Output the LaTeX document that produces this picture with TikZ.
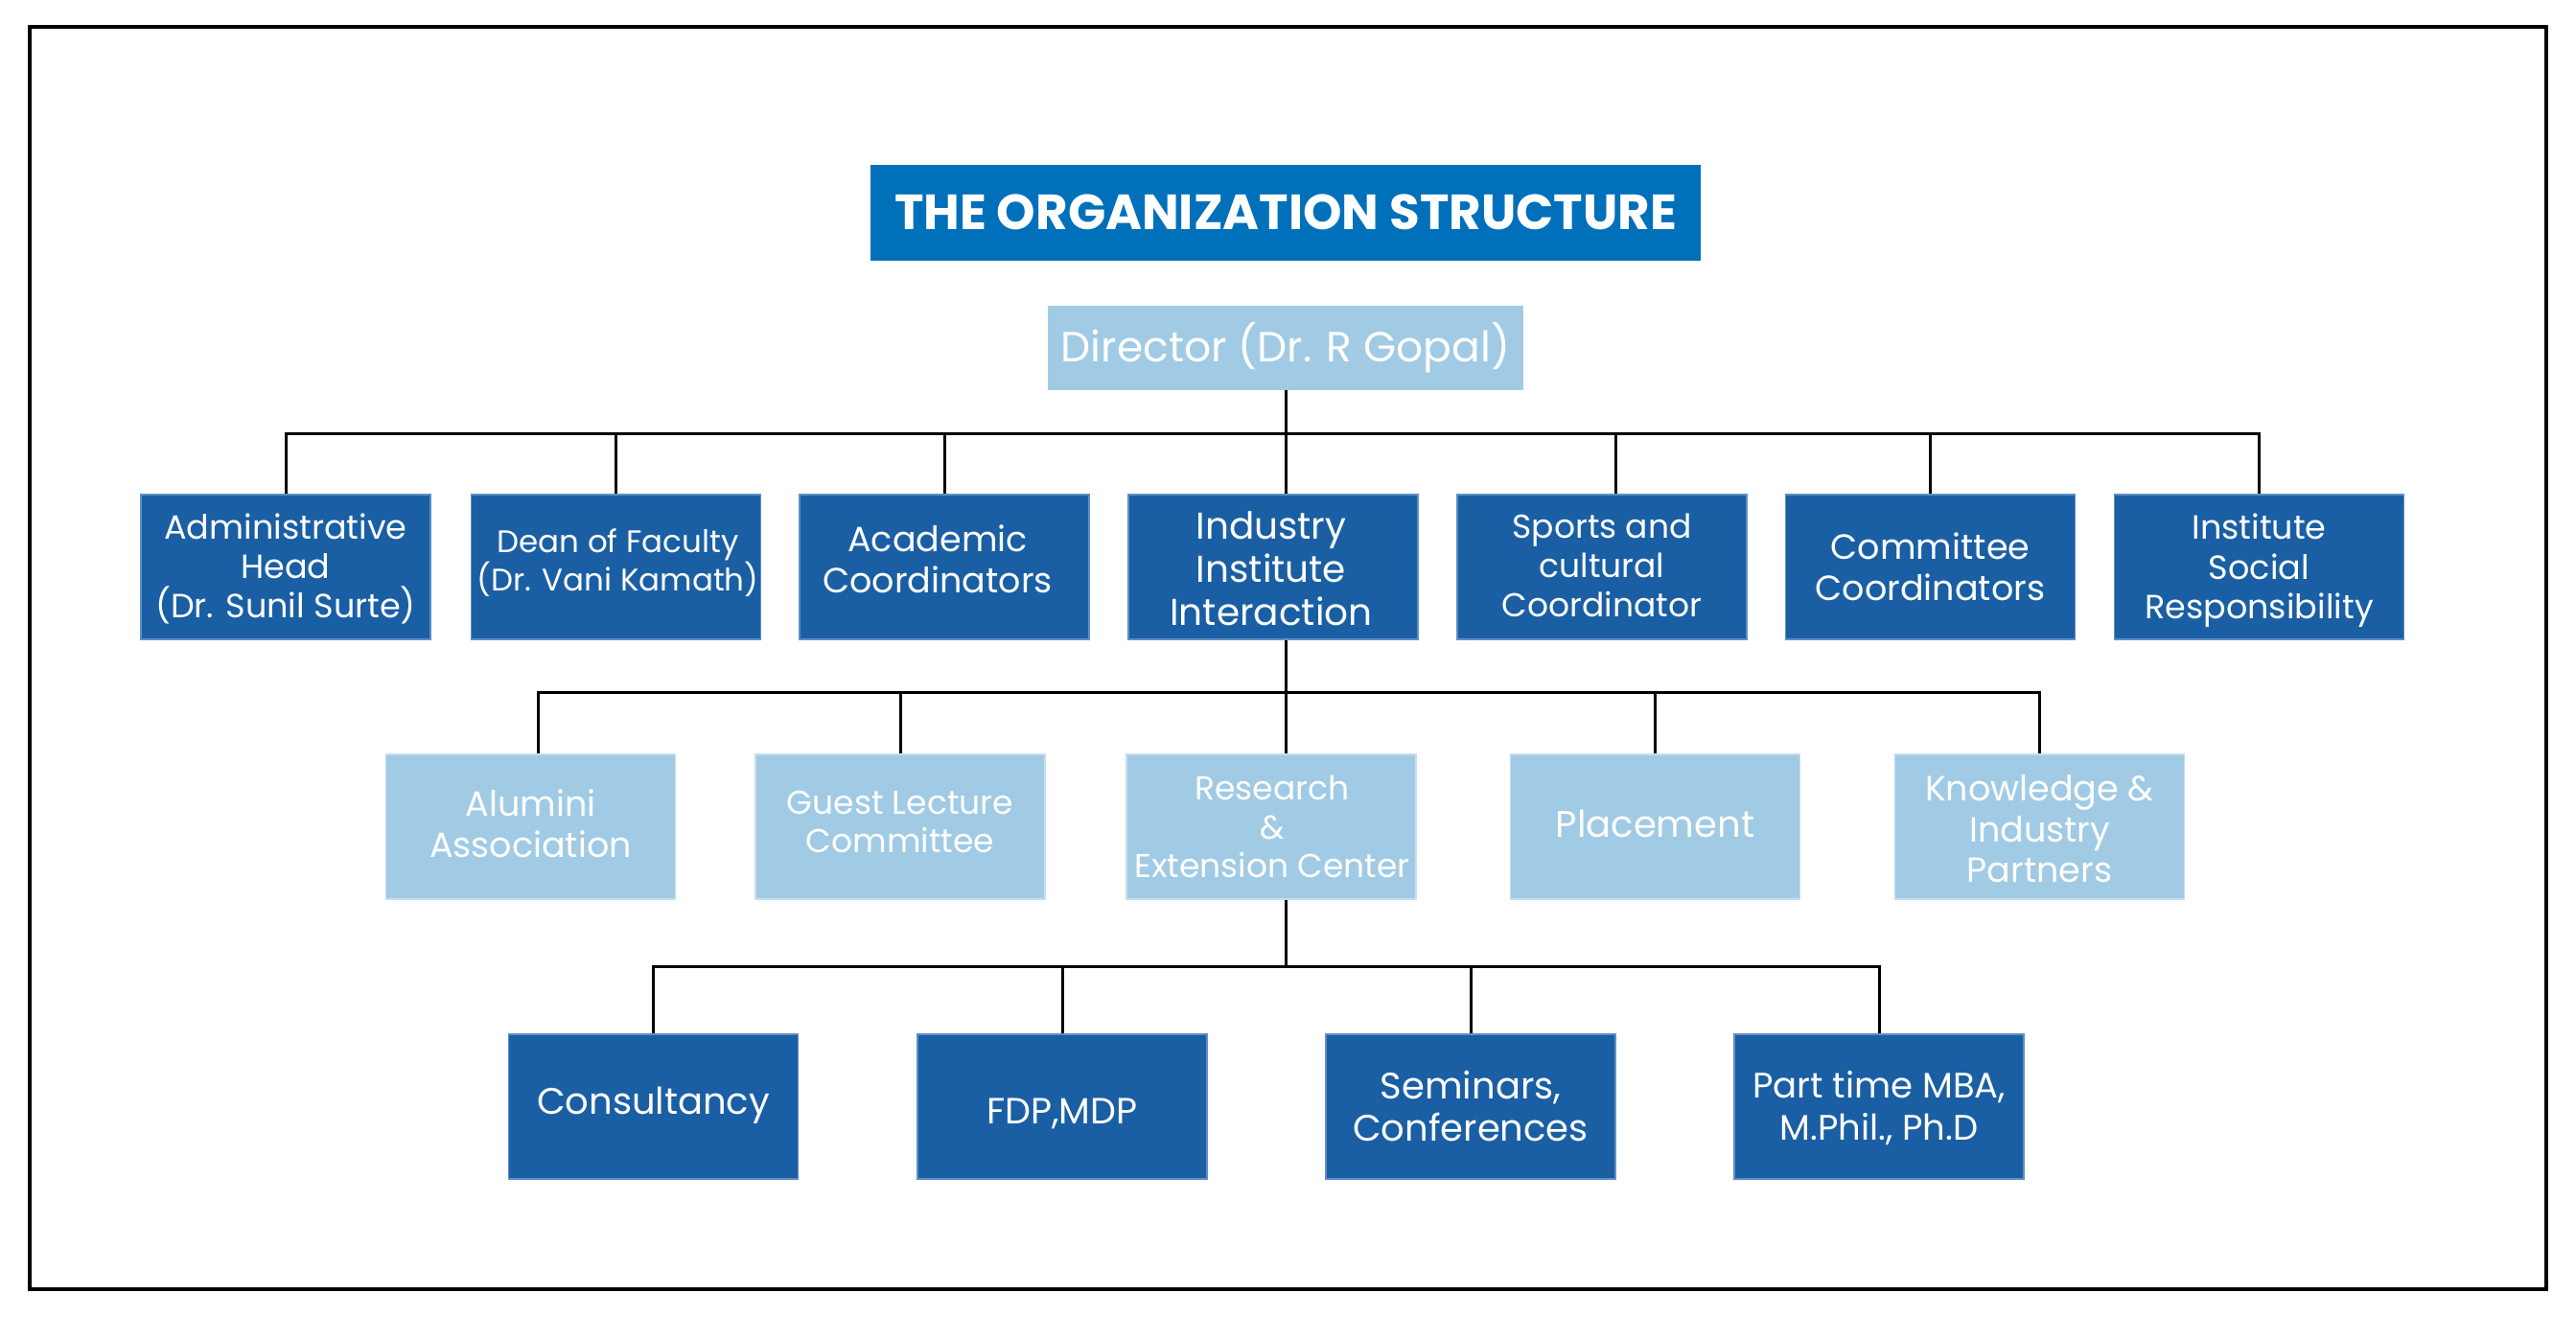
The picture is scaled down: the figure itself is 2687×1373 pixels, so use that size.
\documentclass[tikz,border=0pt]{standalone}
\usepackage{fontspec}
\setmainfont{Poppins}
\definecolor{dkblue}{HTML}{1A5FA4}
\definecolor{dkedge}{HTML}{5F8FC8}
\definecolor{ltblue}{HTML}{A1CBE4}
\definecolor{ltedge}{HTML}{C6DEEE}
\definecolor{ttlblue}{HTML}{0070BA}
\begin{document}
\begin{tikzpicture}[x=1pt,y=-1pt,
  conn/.style={line width=3pt,black},
  darkbox/.style={rectangle,fill=dkblue,draw=dkedge,line width=1.5pt,minimum width=302,minimum height=151,inner sep=0pt},
  lightbox/.style={rectangle,fill=ltblue,draw=ltedge,line width=1.5pt,minimum width=302,minimum height=151,inner sep=0pt},
  txt/.style={inner sep=0pt,text=white,align=center}
]
\useasboundingbox (0,0) rectangle (2687,1373);
\draw[line width=3.5pt] (31,28) rectangle (2656,1345);

% title and director
\node[rectangle,fill=ttlblue,minimum width=866,minimum height=100,inner sep=0pt,text=white,font=\fontsize{51.5}{60}\selectfont\bfseries] (ttl) at (1341,221.5) {THE ORGANIZATION STRUCTURE};
\node[rectangle,fill=ltblue,minimum width=496,minimum height=88,inner sep=0pt,text=white,font=\fontsize{44}{50}\selectfont] (dir) at (1341,362.5) {Director (Dr. R Gopal)};

% level 1 boxes
\node[darkbox] (adm) at (298,591.5) {};
\node[darkbox] (dean) at (642.5,591.5) {};
\node[darkbox] (acad) at (985,591.5) {};
\node[darkbox] (ind) at (1328,591.5) {};
\node[darkbox] (sport) at (1671,591.5) {};
\node[darkbox] (comm) at (2013.5,591.5) {};
\node[darkbox] (isr) at (2356.5,591.5) {};
% level 1 texts (yshift is in canvas units: positive = up)
\node[txt,font=\fontsize{35}{41}\selectfont] (adm-t) at ([yshift=-1.5]adm.center) {Administrative\\Head\\(Dr. Sunil Surte)};
\node[txt,font=\fontsize{32.5}{40}\selectfont] (dean-t) at ([xshift=2,yshift=4]dean.center) {Dean of Faculty\\(Dr. Vani Kamath)};
\node[txt,font=\fontsize{36.5}{43}\selectfont] (acad-t) at ([xshift=-7,yshift=8.5]acad.center) {Academic\\Coordinators};
\node[txt,font=\fontsize{39}{45}\selectfont] (ind-t) at ([xshift=-2,yshift=-1.5]ind.center) {Industry\\Institute\\Interaction};
\node[txt,font=\fontsize{34.5}{41}\selectfont] (sport-t) at ([yshift=2]sport.center) {Sports and\\cultural\\Coordinator};
\node[txt,font=\fontsize{36.5}{43}\selectfont] (comm-t) at (comm.center) {Committee\\Coordinators};
\node[txt,font=\fontsize{35}{41.5}\selectfont] (isr-t) at ([yshift=-4]isr.center) {Institute\\Social\\Responsibility};

% level 2 boxes
\node[lightbox] (alum) at (553.5,862.5) {};
\node[lightbox] (guest) at (939,862.5) {};
\node[lightbox] (res) at (1326,862.5) {};
\node[lightbox] (plac) at (1726.5,862.5) {};
\node[lightbox] (know) at (2127.5,862.5) {};
% level 2 texts
\node[txt,font=\fontsize{36.5}{43}\selectfont] (alum-t) at ([yshift=3.5]alum.center) {Alumini\\Association};
\node[txt,font=\fontsize{34.5}{40}\selectfont] (guest-t) at ([yshift=5]guest.center) {Guest Lecture\\Committee};
\node[txt,font=\fontsize{34.5}{40.5}\selectfont] (res-t) at ([xshift=1]res.center) {Research\\\&\\Extension Center};
\node[txt,font=\fontsize{38.5}{45}\selectfont] (plac-t) at ([yshift=3.5]plac.center) {Placement};
\node[txt,font=\fontsize{36.5}{42.5}\selectfont] (know-t) at ([yshift=-2.5]know.center) {Knowledge \&\\Industry\\Partners};

% level 3 boxes
\node[darkbox] (cons) at (681.5,1154.5) {};
\node[darkbox] (fdp) at (1108,1154.5) {};
\node[darkbox] (sem) at (1534,1154.5) {};
\node[darkbox] (part) at (1960,1154.5) {};
% level 3 texts
\node[txt,font=\fontsize{38.5}{45}\selectfont] (cons-t) at ([yshift=1.5]cons.center) {Consultancy};
\node[txt,font=\fontsize{38}{45}\selectfont] (fdp-t) at ([yshift=-7]fdp.center) {FDP,MDP};
\node[txt,font=\fontsize{38.5}{44}\selectfont] (sem-t) at (sem.center) {Seminars,\\Conferences};
\node[txt,font=\fontsize{37}{44}\selectfont] (part-t) at ([yshift=-1.5]part.center) {Part time MBA,\\M.Phil., Ph.D};

% buses
\coordinate (b1) at (1341,452);
\coordinate (b2) at (1341,722);
\coordinate (b3) at (1341,1008);

\draw[conn] (dir.south) -- (b1);
\draw[conn] (adm.north) |- (b1);
\draw[conn] (dean.north) |- (b1);
\draw[conn] (acad.north) |- (b1);
\draw[conn] ([xshift=13]ind.north) -- (b1);
\draw[conn] ([xshift=14]sport.north) |- (b1);
\draw[conn] (comm.north) |- (b1);
\draw[conn] (isr.north) |- (b1);

\draw[conn] ([xshift=13]ind.south) -- (b2);
\draw[conn] ([xshift=8]alum.north) |- (b2);
\draw[conn] (guest.north) |- (b2);
\draw[conn] ([xshift=15]res.north) -- (b2);
\draw[conn] (plac.north) |- (b2);
\draw[conn] (know.north) |- (b2);

\draw[conn] ([xshift=15]res.south) -- (b3);
\draw[conn] (cons.north) |- (b3);
\draw[conn] (fdp.north) |- (b3);
\draw[conn] (sem.north) |- (b3);
\draw[conn] (part.north) |- (b3);
\end{tikzpicture}
\end{document}
